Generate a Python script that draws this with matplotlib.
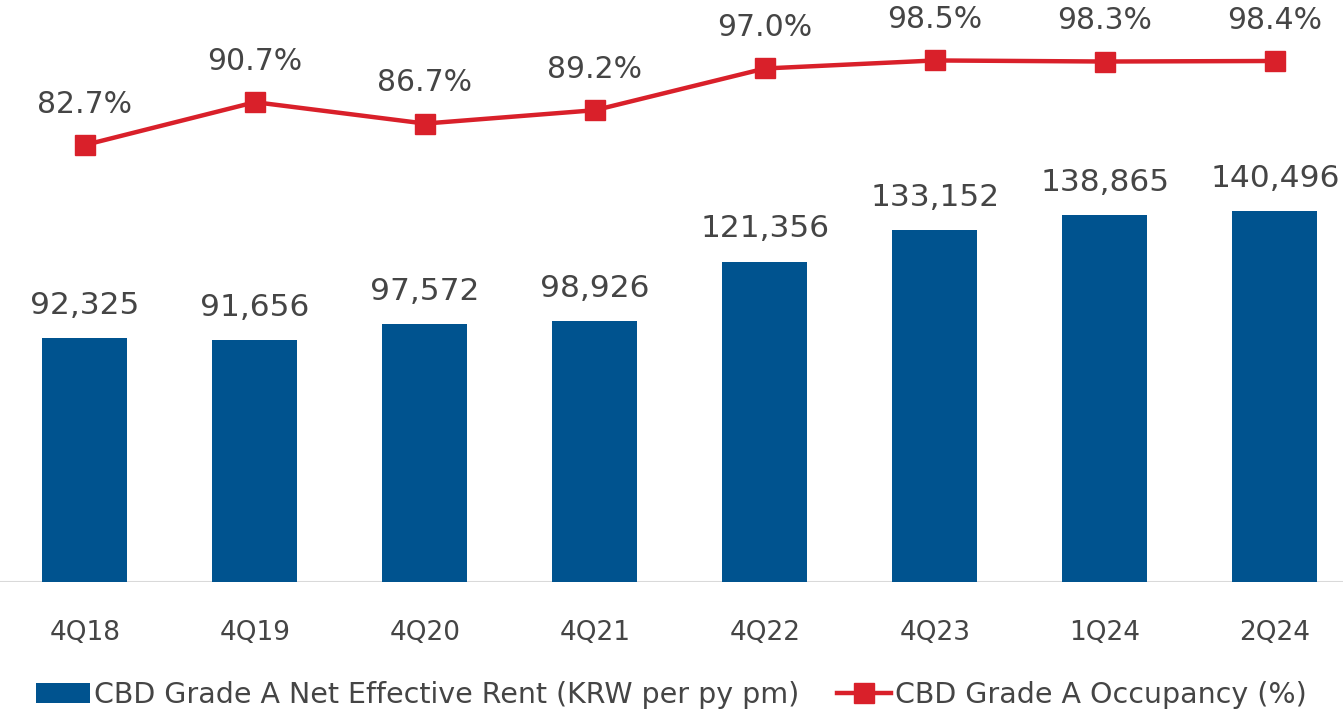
import matplotlib
matplotlib.use("Agg")
import matplotlib.pyplot as plt
import numpy as np

# data
quarters = ['4Q18', '4Q19', '4Q20', '4Q21', '4Q22', '4Q23', '1Q24', '2Q24']
rent = [92325, 91656, 97572, 98926, 121356, 133152, 138865, 140496]
occupancy = [82.7, 90.7, 86.7, 89.2, 97.0, 98.5, 98.3, 98.4]

blue = '#00538F'
red = '#D9202A'
txt = '#454545'

plt.rcParams['font.family'] = ['DejaVu Sans']

fig = plt.figure(figsize=(13.43, 7.15), dpi=100)
ax = fig.add_axes([0.0, 0.186, 1.0, 0.814])
x = np.arange(len(quarters))

ax.bar(x, rent, width=0.5, color=blue, label='CBD Grade A Net Effective Rent (KRW per py pm)', zorder=2)
ax.set_xlim(-0.5, 7.4)
ax.set_ylim(0, 220400)
for xi, v in zip(x, rent):
    ax.annotate(f'{v:,}', (xi, v), xytext=(0, 13), textcoords='offset points',
                ha='center', va='bottom', fontsize=22.5, color=txt)

ax.axhline(0, color='#d9d9d9', lw=1.5, zorder=1)
for s in ax.spines.values():
    s.set_visible(False)
ax.set_yticks([])
ax.set_xticks(x)
ax.set_xticklabels(quarters, fontsize=19, color=txt)
ax.tick_params(axis='x', length=0, pad=27)

ax2 = ax.twinx()
ax2.plot(x, occupancy, color=red, lw=3.2, marker='s', ms=14,
         label='CBD Grade A Occupancy (%)', zorder=3)
ax2.set_ylim(1.0, 109.8)
ax2.set_yticks([])
for s in ax2.spines.values():
    s.set_visible(False)
for xi, v in zip(x, occupancy):
    ax2.annotate(f'{v:.1f}%', (xi, v), xytext=(0, 19), textcoords='offset points',
                 ha='center', va='bottom', fontsize=21.5, color=txt)

h1, l1 = ax.get_legend_handles_labels()
h2, l2 = ax2.get_legend_handles_labels()
fig.legend(h1 + h2, l1 + l2, loc='lower center', bbox_to_anchor=(0.5, -0.027), ncol=2,
           frameon=False, fontsize=20.5, labelcolor=txt, handlelength=1.9,
           handletextpad=0.15, columnspacing=1.3)

fig.savefig('out.png', dpi=100)
